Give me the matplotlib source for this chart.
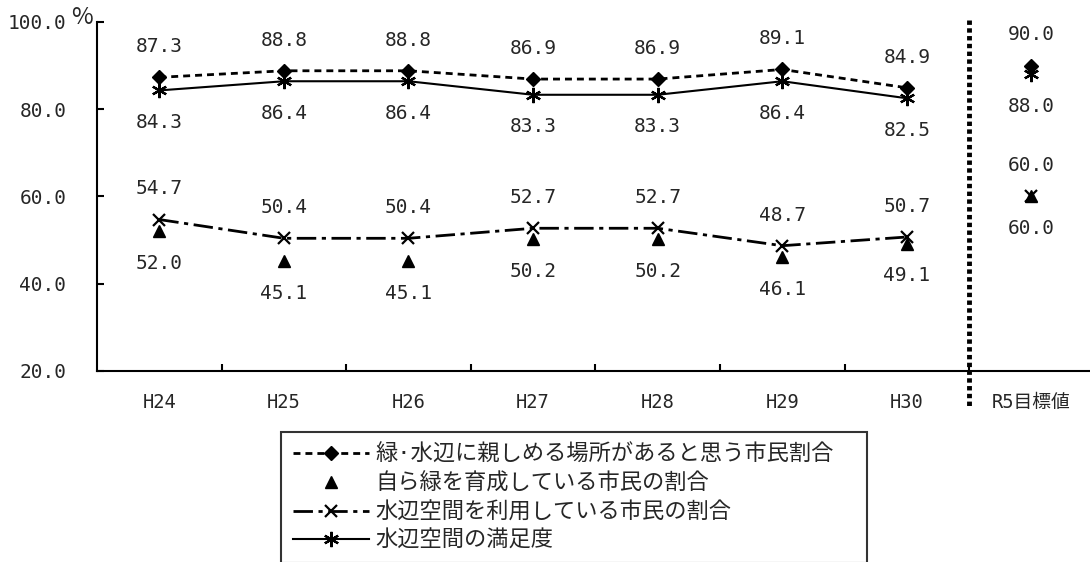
import numpy as np
import matplotlib.pyplot as plt

plt.rcParams['font.family'] = ['DejaVu Sans Mono', 'Noto Sans CJK JP']

years = ['H24', 'H25', 'H26', 'H27', 'H28', 'H29', 'H30']
target_label = 'R5目標値'

green_place = [87.3, 88.8, 88.8, 86.9, 86.9, 89.1, 84.9]
grow_green = [52.0, 45.1, 45.1, 50.2, 50.2, 46.1, 49.1]
use_water = [54.7, 50.4, 50.4, 52.7, 52.7, 48.7, 50.7]
satisfaction = [84.3, 86.4, 86.4, 83.3, 83.3, 86.4, 82.5]

target_green_place = 90.0
target_grow_green = 60.0
target_use_water = 60.0
target_satisfaction = 88.0

names = ['緑·水辺に親しめる場所があると思う市民割合',
         '自ら緑を育成している市民の割合',
         '水辺空間を利用している市民の割合',
         '水辺空間の満足度']

txt = '#262626'
fig = plt.figure(figsize=(10.9, 5.62), dpi=100)
ax = fig.add_axes([0.089, 0.340, 0.911, 0.621])

x = np.arange(len(years))
xt = len(years)

dia = dict(marker='D', ms=7.5)
tri = dict(marker='^', ms=8.5)
crs = dict(marker='x', ms=9, mew=1.6)
ast = dict(marker=(6, 2, 0), ms=11, mew=1.6)

h1, = ax.plot(x, green_place, color='k', lw=2, ls=(0, (2.5, 1.8)),
              label=names[0], **dia)
h2, = ax.plot(x, grow_green, color='k', lw=0, label=names[1], **tri)
h3, = ax.plot(x, use_water, color='k', lw=2, ls=(0, (7, 2, 1.5, 2)),
              label=names[2], **crs)
h4, = ax.plot(x, satisfaction, color='k', lw=1.5, label=names[3], **ast)

ax.plot([xt], [target_green_place], color='k', lw=0, **dia)
ax.plot([xt], [target_grow_green], color='k', lw=0, **tri)
ax.plot([xt], [target_use_water], color='k', lw=0, **crs)
ax.plot([xt], [target_satisfaction], color='k', lw=0, **ast)

def lab(xs, ys, up):
    off = 22 if up else -23
    for xi, yi in zip(xs, ys):
        ax.annotate('%.1f' % yi, (xi, yi), textcoords='offset points',
                    xytext=(0, off), ha='center', va='center',
                    fontsize=14, color=txt)

lab(x, green_place, True)
lab(x, satisfaction, False)
lab(x, use_water, True)
lab(x, grow_green, False)
lab([xt], [target_green_place], True)
lab([xt], [target_satisfaction], False)
lab([xt], [target_use_water], True)
lab([xt], [target_grow_green], False)

ax.set_xlim(-0.5, 7.47)
ax.set_ylim(20, 100)
ax.set_yticks([20, 40, 60, 80, 100])
ax.set_yticklabels(['%.1f' % v for v in [20, 40, 60, 80, 100]])
ax.set_xticks(list(x) + [xt])
ax.set_xticklabels(years + [target_label])
ax.set_xticks(np.arange(0.5, 6.6, 1), minor=True)
ax.tick_params(axis='x', which='major', length=0, pad=16, labelsize=13.5, colors=txt)
ax.tick_params(axis='x', which='minor', direction='in', length=5, width=1.5)
ax.tick_params(axis='y', direction='in', length=5, width=1.5, pad=22,
               labelsize=14, labelcolor=txt)
for s in ['top', 'right']:
    ax.spines[s].set_visible(False)
for s in ['left', 'bottom']:
    ax.spines[s].set_linewidth(1.5)

ax.plot([6.5, 6.5], [100.4, 11.5], color='k', lw=3.5, ls=(0, (0.9, 0.7)),
        clip_on=False)

fig.text(82 / 1090, 1 - 18 / 562, '%', fontsize=17, color=txt,
         ha='center', va='center', family='Noto Sans CJK JP')

leg = fig.legend(handles=[h1, h2, h3, h4], loc='upper left',
                 bbox_to_anchor=(0.258, 0.232, 0.537, 0.0),
                 bbox_transform=fig.transFigure, mode='expand',
                 borderaxespad=0, fontsize=16, handlelength=3.4,
                 handletextpad=0.3, labelspacing=0.34, borderpad=0.55,
                 fancybox=False, frameon=True)
leg.get_frame().set_edgecolor('k')
leg.get_frame().set_linewidth(1.5)
for t in leg.get_texts():
    t.set_color(txt)

fig.savefig('out.png', dpi=100)
